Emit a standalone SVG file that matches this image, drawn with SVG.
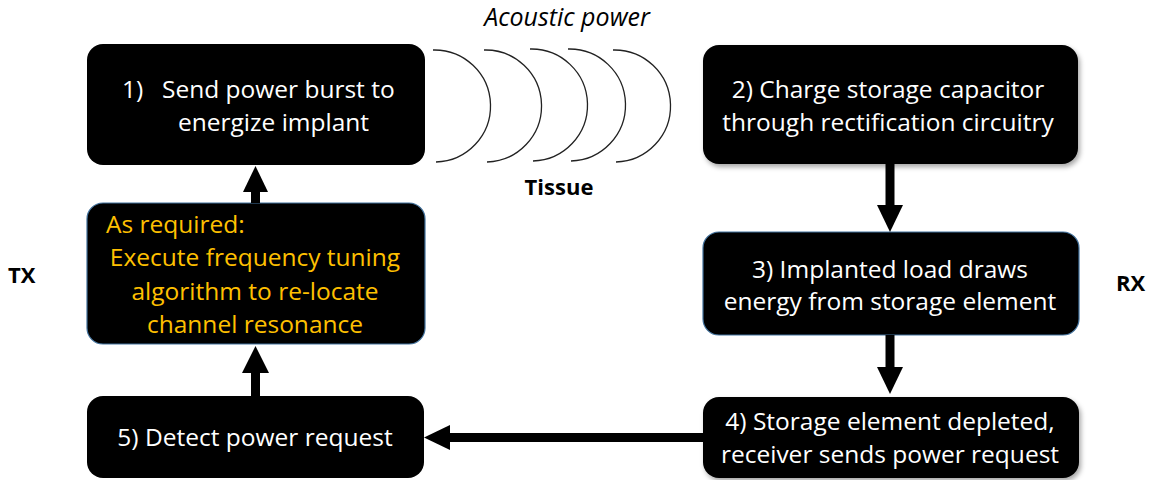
<svg xmlns="http://www.w3.org/2000/svg" width="1156" height="480" viewBox="0 0 1156 480">
<style>
.box{fill:#000;}
.bord{fill:#000;stroke:#41719C;stroke-width:1.2;}
.t{font-family:"Open Sans","Liberation Sans",sans-serif;font-size:24.5px;fill:#fff;}
.o{fill:#FFC000;}
.lbl{font-family:"Open Sans","Liberation Sans",sans-serif;font-size:22px;fill:#000;font-weight:bold;}
.it{font-family:"Open Sans","Liberation Sans",sans-serif;font-size:25px;fill:#000;font-style:italic;}
.arc{fill:none;stroke:#222;stroke-width:1.3;}
.ln{stroke:#000;stroke-width:9;fill:none;}
.hd{fill:#000;}
</style>
<defs>
<filter id="sh" x="-10%" y="-10%" width="130%" height="140%">
<feDropShadow dx="2" dy="3" stdDeviation="2.5" flood-color="#000" flood-opacity="0.35"/>
</filter>
</defs>
<text x="567" y="26" text-anchor="middle" class="it">Acoustic power</text>
<text x="559" y="195" text-anchor="middle" class="lbl">Tissue</text>
<text x="8" y="283" class="lbl">TX</text>
<text x="1116" y="291" class="lbl">RX</text>
<g id="waves">
<path class="arc" d="M433 50 A56 56 0 0 1 436 162"/>
<path class="arc" d="M484 50 A56 56 0 0 1 487 162"/>
<path class="arc" d="M530 49 A56 56 0 0 1 533 161"/>
<path class="arc" d="M568 49 A56 56 0 0 1 571 161"/>
<path class="arc" d="M613 50 A56 56 0 0 1 616 162"/>
</g>
<g id="node1">
<rect class="box" x="87" y="44" width="338" height="121" rx="16"/>
<text class="t" x="122" y="98">1)<tspan x="162">Send power burst to</tspan></text>
<text class="t" x="178" y="131">energize implant</text>
</g>
<g id="node2">
<rect class="box" x="703" y="45" width="375" height="119" rx="16" filter="url(#sh)"/>
<text class="t" x="888" y="98" text-anchor="middle">2) Charge storage capacitor</text>
<text class="t" x="888" y="131" text-anchor="middle">through rectification circuitry</text>
</g>
<g id="node3">
<rect class="bord" x="703" y="232" width="376" height="103" rx="16"/>
<text class="t" x="890" y="278" text-anchor="middle">3) Implanted load draws</text>
<text class="t" x="890" y="310" text-anchor="middle">energy from storage element</text>
</g>
<g id="node4">
<rect class="box" x="703" y="397" width="376" height="81" rx="16" filter="url(#sh)"/>
<text class="t" x="890" y="430" text-anchor="middle">4) Storage element depleted,</text>
<text class="t" x="890" y="463" text-anchor="middle">receiver sends power request</text>
</g>
<g id="node5">
<rect class="box" x="87" y="396" width="337" height="82" rx="16"/>
<text class="t" x="255" y="446" text-anchor="middle">5) Detect power request</text>
</g>
<g id="nodeTX">
<rect class="bord" x="87" y="203" width="338" height="141" rx="16"/>
<text class="t o" x="106" y="233">As required:</text>
<text class="t o" x="255" y="266" text-anchor="middle">Execute frequency tuning</text>
<text class="t o" x="255" y="300" text-anchor="middle">algorithm to re-locate</text>
<text class="t o" x="255" y="333" text-anchor="middle">channel resonance</text>
</g>
<g id="connectors">
<line class="ln" x1="255.5" y1="203" x2="255.5" y2="190"/>
<polygon class="hd" points="243,192 268,192 255.5,166"/>
<line class="ln" x1="255.5" y1="396" x2="255.5" y2="371"/>
<polygon class="hd" points="242,373 269,373 255.5,346"/>
<line class="ln" x1="890" y1="164" x2="890" y2="207"/>
<polygon class="hd" points="877,205 903,205 890,232"/>
<line class="ln" x1="890" y1="335" x2="890" y2="370"/>
<polygon class="hd" points="877,367 903,367 890,394"/>
<line class="ln" x1="703" y1="437.5" x2="448" y2="437.5"/>
<polygon class="hd" points="450,425 450,450 424,437.5"/>
</g>
</svg>
